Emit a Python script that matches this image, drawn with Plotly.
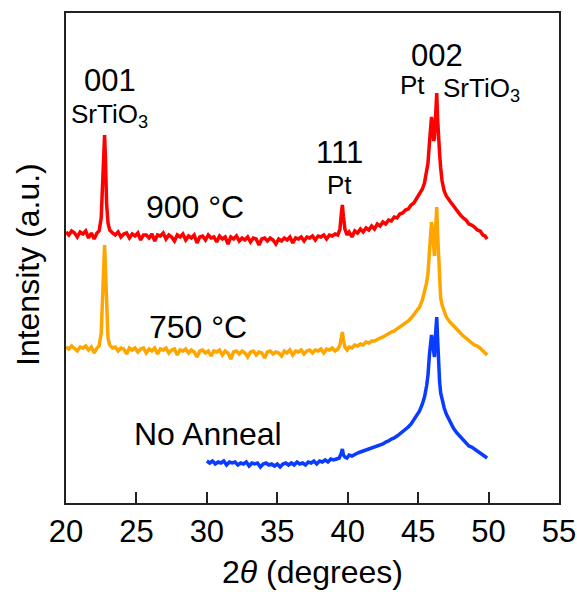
import plotly.graph_objects as go

# ---------------- data (2theta in degrees, intensity in offset a.u.) ----------------
x_900 = [20.0, 20.2, 20.4, 20.6, 20.8, 21.0, 21.2, 21.4, 21.6, 21.8, 22.0, 22.2, 22.35,
         22.5, 22.6, 22.68, 22.74, 22.8, 22.88, 22.98, 23.1, 23.3,
         23.5, 23.7, 23.9, 24.1, 24.3, 24.5, 24.7, 24.9, 25.1, 25.3, 25.5, 25.7, 25.9, 26.1, 26.3, 26.5,
         26.7, 26.9, 27.1, 27.3, 27.5, 27.7, 27.9, 28.1, 28.3, 28.5, 28.7, 28.9, 29.1, 29.3, 29.5, 29.7,
         29.9, 30.1, 30.3, 30.5, 30.7, 30.9, 31.1, 31.3, 31.5, 31.7, 31.9, 32.1, 32.3, 32.5, 32.7, 32.9,
         33.1, 33.3, 33.5, 33.7, 33.9, 34.1, 34.3, 34.5, 34.7, 34.9, 35.1, 35.3, 35.5, 35.7, 35.9, 36.1,
         36.3, 36.5, 36.7, 36.9, 37.1, 37.3, 37.5, 37.7, 37.9, 38.1, 38.3, 38.5, 38.7, 38.9, 39.1, 39.3,
         39.45, 39.55, 39.62, 39.7, 39.8, 39.95, 40.1, 40.3, 40.5, 40.7, 40.9, 41.1, 41.3, 41.5, 41.7,
         41.9, 42.1, 42.3, 42.5, 42.7, 42.9, 43.1, 43.3, 43.5, 43.7, 43.9, 44.1, 44.3, 44.5, 44.7, 44.9,
         45.1, 45.3, 45.45, 45.6, 45.7, 45.8, 45.88, 45.95, 46.02, 46.1, 46.16, 46.22, 46.28, 46.32,
         46.38, 46.45, 46.52, 46.6, 46.7, 46.85, 47.0, 47.25, 47.5, 47.75, 48.0, 48.2, 48.4, 48.6, 48.8,
         49.0, 49.2, 49.4, 49.6, 49.75, 49.9]
y_900 = [271, 268, 272, 270, 266, 271, 269, 272, 265, 270, 264, 270, 272,
         285, 320, 360, 368, 345, 300, 280, 273, 270,
         268, 271, 266, 269, 270, 265, 269, 267, 270, 263, 268, 268, 265, 269, 262, 268,
         267, 270, 264, 268, 266, 262, 268, 266, 269, 263, 267, 265, 268, 260, 266, 267,
         263, 268, 265, 266, 261, 267, 264, 266, 259, 266, 264, 267, 262, 265, 263, 266,
         261, 265, 264, 258, 264, 265, 262, 265, 263, 259, 264, 262, 265, 263, 266, 260,
         265, 264, 266, 262, 266, 265, 267, 263, 267, 266, 268, 264, 268, 267, 269, 268,
         274, 290, 298, 286, 274, 268, 271, 266, 272, 270, 274, 271, 275, 273, 277,
         274, 279, 277, 281, 279, 283, 282, 286, 285, 289, 290, 293, 294, 298, 300, 305,
         309, 314, 320, 330, 340, 360, 382, 386, 378, 362, 365, 385, 408, 410,
         385, 362, 350, 335, 322, 312, 307, 302, 297, 292, 288, 285, 283, 279, 278,
         276, 273, 272, 268, 267, 264]

x_750 = x_900
y_750 = [156, 154, 157, 155, 152, 156, 155, 157, 153, 156, 150, 155, 157,
         170, 215, 252, 258, 235, 190, 165, 158, 155,
         156, 152, 155, 154, 149, 155, 153, 155, 151, 154, 155, 150, 154, 152, 155, 149,
         154, 153, 155, 150, 153, 154, 148, 153, 152, 154, 150, 153, 151, 146, 152, 153,
         150, 152, 147, 152, 151, 153, 148, 152, 150, 144, 151, 152, 149, 152, 150, 146,
         151, 152, 148, 151, 150, 145, 151, 152, 149, 151, 150, 147, 152, 150, 153, 148,
         152, 151, 153, 149, 152, 153, 150, 153, 152, 154, 150, 154, 153, 155, 152, 154,
         158, 166, 171, 163, 156, 153, 156, 155, 158, 157, 159, 158, 161, 160, 162,
         162, 164, 165, 166, 168, 169, 171, 172, 174, 176, 177, 179, 182, 185, 189, 192,
         196, 203, 210, 220, 230, 250, 272, 281, 272, 250, 247, 268, 293, 296,
         270, 243, 215, 205, 198, 191, 186, 181, 177, 173, 170, 167, 165, 162, 160,
         158, 157, 155, 152, 151, 148]

x_none = [30.0, 30.2, 30.4, 30.6, 30.8, 31.0, 31.2, 31.4, 31.6, 31.8, 32.0, 32.2, 32.4, 32.6, 32.8,
          33.0, 33.2, 33.4, 33.6, 33.8, 34.0, 34.2, 34.4, 34.6, 34.8, 35.0, 35.2, 35.4, 35.6, 35.8,
          36.0, 36.2, 36.4, 36.6, 36.8, 37.0, 37.2, 37.4, 37.6, 37.8, 38.0, 38.2, 38.4, 38.6, 38.8,
          39.0, 39.2, 39.4, 39.55, 39.62, 39.7, 39.8, 39.95, 40.1, 40.3, 40.5, 40.7, 40.9, 41.1, 41.3,
          41.5, 41.7, 41.9, 42.1, 42.3, 42.5, 42.7, 42.9, 43.1, 43.3, 43.5, 43.7, 43.9, 44.1, 44.3,
          44.5, 44.7, 44.9, 45.1, 45.3, 45.45, 45.6, 45.7, 45.8, 45.88, 45.95, 46.02, 46.1, 46.16,
          46.22, 46.28, 46.32, 46.38, 46.45, 46.52, 46.6, 46.7, 46.85, 47.0, 47.25, 47.5, 47.75, 48.0,
          48.2, 48.4, 48.6, 48.8, 49.0, 49.2, 49.4, 49.6, 49.75, 49.9]
y_none = [42, 40, 42, 39, 41, 40, 42, 38, 41, 40, 41, 38, 40, 39, 41,
          37, 40, 39, 40, 36, 39, 40, 38, 39, 37, 39, 36, 39, 40, 38,
          40, 38, 41, 39, 40, 38, 41, 40, 42, 39, 42, 41, 43, 41, 44,
          43, 44, 45, 50, 54, 48, 46, 45, 48, 47, 49, 50, 51, 52, 53,
          54, 55, 56, 57, 58, 59, 61, 62, 64, 65, 67, 69, 71, 73, 76,
          79, 83, 87, 92, 99, 106, 117, 128, 148, 165, 168, 160, 147, 146,
          165, 184, 186, 165, 140, 122, 110, 102, 95, 89, 82, 75, 70, 66,
          63, 60, 57, 56, 54, 52, 50, 47, 46, 45]

x_ticks = [20, 25, 30, 35, 40, 45, 50, 55]

# ---------------- figure ----------------
FONT = "Liberation Sans, Arial, sans-serif"

fig = go.Figure()
fig.add_trace(go.Scatter(x=x_900, y=y_900, mode="lines", name="900 °C",
                         line=dict(color="#ff0000", width=3.5)))
fig.add_trace(go.Scatter(x=x_750, y=y_750, mode="lines", name="750 °C",
                         line=dict(color="#ffa500", width=3.5)))
fig.add_trace(go.Scatter(x=x_none, y=y_none, mode="lines", name="No Anneal",
                         line=dict(color="#0a3cff", width=3.5)))

annots = [
    ("001", 23.12, 423, 31),
    ("SrTiO<sub>3</sub>", 23.12, 388, 26),
    ("900 °C", 29.16, 296, 32),
    ("750 °C", 29.37, 176, 32),
    ("No Anneal", 30.1, 69, 32),
    ("111", 39.45, 351, 31),
    ("Pt", 39.45, 318, 26),
    ("002", 46.31, 448, 31),
    ("Pt", 44.63, 418, 26),
    ("SrTiO<sub>3</sub>", 49.5, 414, 26),
]
for txt, ax_, ay_, fs in annots:
    fig.add_annotation(x=ax_, y=ay_, xref="x", yref="y", text=txt, showarrow=False,
                       font=dict(family=FONT, size=fs, color="black"),
                       xanchor="center", yanchor="middle")

# axis titles as annotations for exact placement
fig.add_annotation(x=0.5, y=0, xref="paper", yref="paper", yshift=-69,
                   text="2<i>θ</i> (degrees)", showarrow=False,
                   font=dict(family=FONT, size=32, color="black"),
                   xanchor="center", yanchor="middle")
fig.add_annotation(x=0, y=0.5, xref="paper", yref="paper", xshift=-38, yshift=-7,
                   text="Intensity (a.u.)", showarrow=False, textangle=-90,
                   font=dict(family=FONT, size=32, color="black"),
                   xanchor="center", yanchor="middle")

fig.update_layout(
    width=577, height=592,
    margin=dict(l=66, r=18, t=13, b=89),
    paper_bgcolor="white", plot_bgcolor="white",
    showlegend=False,
    font=dict(family=FONT, color="black"),
)
fig.update_xaxes(range=[20, 55], tickvals=x_ticks, ticktext=[str(t) for t in x_ticks],
                 ticks="inside", ticklen=11, tickwidth=2, tickcolor="#222",
                 showline=True, linecolor="#222", linewidth=2, mirror=True,
                 showgrid=False, zeroline=False, automargin=False,
                 tickfont=dict(family=FONT, size=31, color="black"))
fig.update_yaxes(range=[0, 490], showticklabels=False, ticks="",
                 showline=True, linecolor="#222", linewidth=2, mirror=True,
                 showgrid=False, zeroline=False, automargin=False)

fig.write_html("out.html", config={"displayModeBar": False},
               post_script="document.body.style.margin='0';document.body.style.overflow='hidden';")
